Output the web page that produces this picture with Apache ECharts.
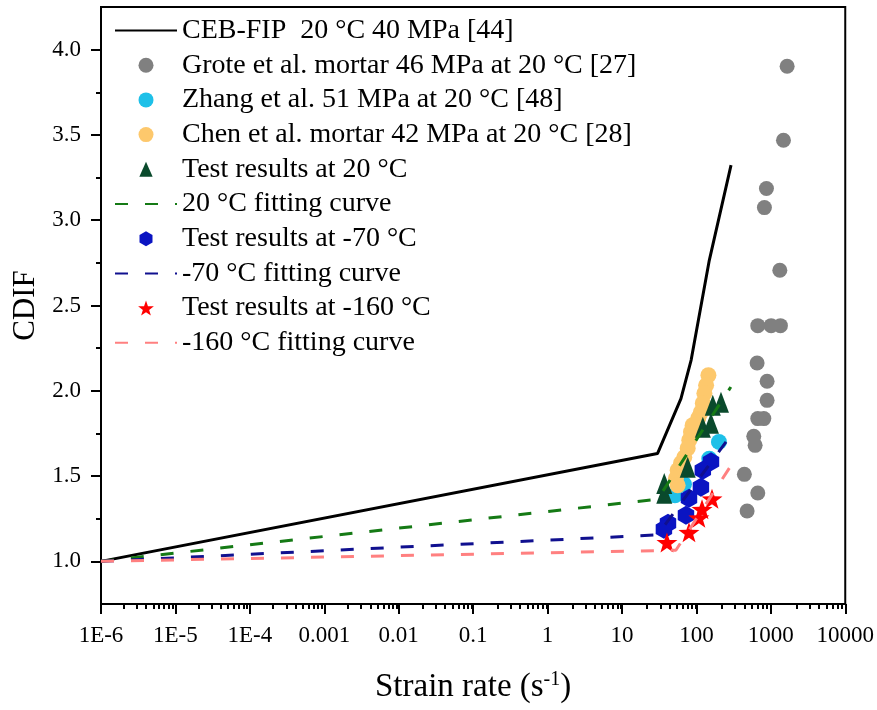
<!DOCTYPE html>
<html>
<head>
<meta charset="utf-8">
<script src="https://cdn.jsdelivr.net/npm/echarts@6/dist/echarts.min.js"></script>
<style>
  html, body { margin: 0; padding: 0; background: #fff; }
  #main { width: 877px; height: 710px; }
</style>
</head>
<body>
<div id="main"></div>
<script>
// tick labels
const xTickExp = [-6, -5, -4, -3, -2, -1, 0, 1, 2, 3, 4];
const xTickLabels = ['1E-6', '1E-5', '1E-4', '0.001', '0.01', '0.1', '1', '10', '100', '1000', '10000'];
const yTicks = [1.0, 1.5, 2.0, 2.5, 3.0, 3.5, 4.0];
const yMinorTicks = [1.25, 1.75, 2.25, 2.75, 3.25, 3.75];

// CEB-FIP 20 C 40 MPa [44]
const cebX = [1e-6, 30, 62, 85, 149, 292];
const cebY = [1.0, 1.632, 1.954, 2.18, 2.765, 3.323];

// Grote et al. mortar 46 MPa
const groteX = [1656, 1479, 873, 820, 1321, 668, 1009, 1346, 654, 891, 891, 668, 805, 590, 615, 441, 668, 480];
const groteY = [3.903, 3.469, 3.186, 3.074, 2.707, 2.382, 2.382, 2.382, 2.163, 2.056, 1.944, 1.837, 1.837, 1.733, 1.680, 1.510, 1.401, 1.295];

// Zhang et al. 51 MPa
const zhangX = [201, 149, 68.1, 51.5];
const zhangY = [1.700, 1.602, 1.452, 1.387];

// Chen et al. mortar 42 MPa
const chenX = [145, 135, 128, 122, 115, 106, 89.1, 84.6, 80.2, 76.4, 68.7, 62.1, 56.0, 53.1, 56.0];
const chenY = [2.091, 2.032, 1.985, 1.927, 1.874, 1.839, 1.798, 1.759, 1.710, 1.663, 1.610, 1.575, 1.534, 1.487, 1.446];

// test results 20 C
const t20X = [214, 166, 157, 122, 76.4, 37.0, 37.0];
const t20Y = [1.933, 1.915, 1.809, 1.786, 1.551, 1.457, 1.399];
const fit20X = [1e-6, 30, 290];
const fit20Y = [1.0, 1.364, 2.022];

// test results -70 C
const t70X = [157, 122, 115, 79.5, 72.4, 41.5, 36.6];
const t70Y = [1.584, 1.534, 1.434, 1.370, 1.270, 1.223, 1.188];
const fit70X = [1e-6, 30, 250];
const fit70Y = [1.0, 1.155, 1.700];

// test results -160 C
const t160X = [162, 119, 108, 79.5, 40.2];
const t160Y = [1.367, 1.305, 1.255, 1.170, 1.111];
const fit160X = [1e-6, 53, 290];
const fit160Y = [1.0, 1.065, 1.56];

const zip = (xs, ys) => xs.map((x, i) => [x, ys[i]]);

const FONT = "'Liberation Serif', 'Times New Roman', serif";
const TRI = 'path://M0,0 L8,18 L-8,18 Z';
const HEX = 'path://M0,-1 L0.866,-0.5 L0.866,0.5 L0,1 L-0.866,0.5 L-0.866,-0.5 Z';
const STAR = 'path://M0,-1 L0.235,-0.324 L0.951,-0.309 L0.38,0.124 L0.588,0.809 L0,0.4 L-0.588,0.809 L-0.38,0.124 L-0.951,-0.309 L-0.235,-0.324 Z';

// minor ticks of the log axis, as exponents
const minorExp = [];
for (let e = -6; e < 4; e++) {
    for (let k = 2; k <= 9; k++) minorExp.push(+(e + Math.log10(k)).toFixed(6));
}

const chart = echarts.init(document.getElementById('main'));

function scatter(name, xs, ys, symbol, size, color) {
    return {
        name: name,
        type: 'scatter',
        xAxisIndex: 0,
        yAxisIndex: 0,
        data: zip(xs, ys),
        symbol: symbol,
        symbolSize: size,
        symbolKeepAspect: true,
        itemStyle: { color: color, opacity: 1 }
    };
}
function line(name, xs, ys, color, width, type) {
    return {
        name: name,
        type: 'line',
        xAxisIndex: 0,
        yAxisIndex: 0,
        data: zip(xs, ys),
        symbol: 'none',
        showSymbol: false,
        lineStyle: { color: color, width: width, type: type },
        itemStyle: { color: color, opacity: 0 }
    };
}

const names = [
    'CEB-FIP  20 °C 40 MPa [44]',
    'Grote et al. mortar 46 MPa at 20 °C [27]',
    'Zhang et al. 51 MPa at 20 °C [48]',
    'Chen et al. mortar 42 MPa at 20 °C [28]',
    'Test results at 20 °C',
    '20 °C fitting curve',
    'Test results at -70 °C',
    '-70 °C fitting curve',
    'Test results at -160 °C',
    '-160 °C fitting curve'
];
const lineNames = [names[0], names[5], names[7], names[9]];

const gridBox = { left: 101, right: 28, top: 7, bottom: 106 };

const option = {
    animation: false,
    backgroundColor: '#fff',
    grid: [
        Object.assign({ show: true, borderColor: '#000', borderWidth: 2 }, gridBox),
        Object.assign({ show: false }, gridBox)
    ],
    legend: {
        orient: 'vertical',
        left: 114,
        top: 16,
        padding: 0,
        itemWidth: 62,
        itemHeight: 15,
        itemGap: 5.7,
        textStyle: { fontFamily: FONT, fontSize: 28, color: '#000', lineHeight: 29 },
        data: names.map(n => lineNames.includes(n) ? { name: n, itemStyle: { opacity: 0 } } : n)
    },
    xAxis: [
        {
            type: 'log', logBase: 10, min: 1e-6, max: 1e4, gridIndex: 0,
            axisLine: { show: false, onZero: false }, axisTick: { show: false },
            axisLabel: { show: false }, splitLine: { show: false }
        },
        {
            type: 'value', min: -6, max: 4, interval: 1, position: 'bottom', gridIndex: 0,
            name: 'Strain rate (s{sup|-1})',
            nameLocation: 'middle', nameGap: 66,
            nameTextStyle: {
                fontFamily: FONT, fontSize: 33, color: '#000',
                rich: { sup: { fontFamily: FONT, fontSize: 20, color: '#000', verticalAlign: 'top', padding: [0, 0, 14, 0] } }
            },
            axisLine: { show: true, onZero: false, lineStyle: { color: '#000', width: 2 } },
            axisTick: { show: true, length: 10, lineStyle: { color: '#000', width: 2 } },
            axisLabel: {
                margin: 20, fontFamily: FONT, fontSize: 23, color: '#000',
                formatter: v => xTickLabels[xTickExp.indexOf(Math.round(v))]
            },
            splitLine: { show: false }
        },
        {
            type: 'value', min: -6, max: 4, position: 'bottom', gridIndex: 1,
            axisLine: { show: true, onZero: false, lineStyle: { color: '#000', width: 2, opacity: 0 } },
            axisTick: { show: true, length: 5, customValues: minorExp, lineStyle: { color: '#000', width: 2 } },
            axisLabel: { show: false },
            splitLine: { show: false }
        }
    ],
    yAxis: [
        {
            type: 'value', min: 0.75, max: 4.25, gridIndex: 0,
            name: 'CDIF', nameLocation: 'middle', nameGap: 56,
            nameTextStyle: { fontFamily: FONT, fontSize: 31, color: '#000' },
            axisLine: { show: true, onZero: false, lineStyle: { color: '#000', width: 2 } },
            axisTick: { show: true, length: 10, customValues: yTicks, lineStyle: { color: '#000', width: 2 } },
            axisLabel: {
                margin: 20, fontFamily: FONT, fontSize: 23, color: '#000',
                customValues: yTicks, formatter: v => v.toFixed(1)
            },
            splitLine: { show: false }
        },
        {
            type: 'value', min: 0.75, max: 4.25, position: 'left', gridIndex: 1,
            axisLine: { show: false, onZero: false },
            axisTick: { show: true, length: 5, customValues: yMinorTicks, lineStyle: { color: '#000', width: 2 } },
            axisLabel: { show: false },
            splitLine: { show: false }
        }
    ],
    series: [
        line(names[0], cebX, cebY, '#000000', 3, 'solid'),
        scatter(names[1], groteX, groteY, 'circle', 15, '#808080'),
        scatter(names[2], zhangX, zhangY, 'circle', 16, '#1ec0e8'),
        scatter(names[3], chenX, chenY, 'circle', 16, '#fdc86c'),
        scatter(names[4], t20X, t20Y, TRI, [18, 21], '#0a4a2c'),
        line(names[5], fit20X, fit20Y, '#157a15', 3, [13, 17]),
        scatter(names[6], t70X, t70Y, HEX, 19, '#0a14c2'),
        line(names[7], fit70X, fit70Y, '#10108f', 3, [13, 17]),
        scatter(names[8], t160X, t160Y, STAR, 21, '#ff0000'),
        line(names[9], fit160X, fit160Y, '#ff8080', 3, [13, 17])
    ]
};

chart.setOption(option);
</script>
</body>
</html>
